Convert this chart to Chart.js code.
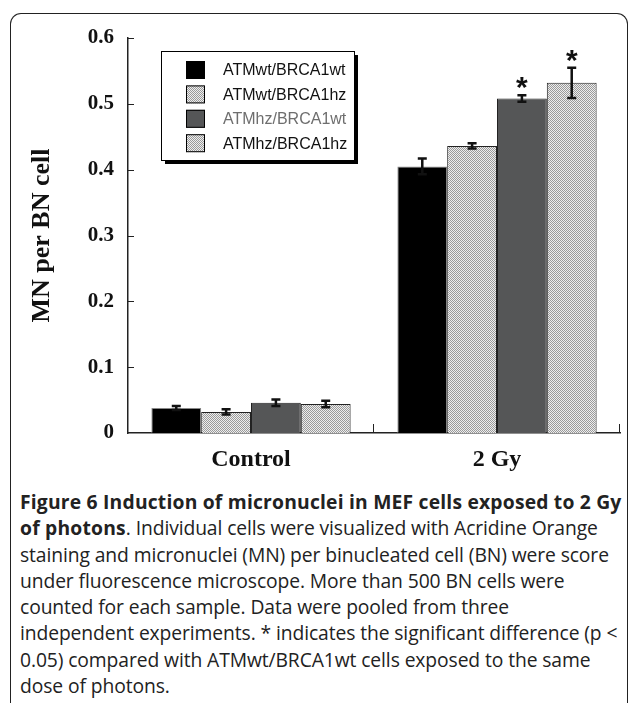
<!DOCTYPE html>
<html lang="en">
<head>
<meta charset="UTF-8"/>
<title>MN per BN cell</title>
<script src="https://cdn.jsdelivr.net/npm/chart.js"></script>
<style>
    html, body {
        margin: 0;
        padding: 0;
        background: #fff;
        width: 629px;
        height: 703px;
        overflow: hidden;
    }
    .frame {
        position: absolute;
        left: 10px;
        top: 13px;
        width: 616px;
        height: 720px;
        border: 1.5px solid #222;
        border-bottom: none;
        border-radius: 11px 11px 0 0;
    }
    .chart-box {
        position: absolute;
        left: 0;
        top: 0;
        width: 629px;
        height: 480px;
    }
    .caption {
        position: absolute;
        left: 20px;
        top: 489px;
        font-family: 'Open Sans', sans-serif;
        font-size: 19.3px;
        letter-spacing: -0.1px;
        line-height: 26.3px;
        color: #222;
        white-space: nowrap;
    }
    .caption b { font-weight: 700; letter-spacing: 0.2px; }
</style>
</head>
<body>
<div class="frame"></div>
<div class="chart-box"><canvas id="mn"></canvas></div>
<div class="caption">
    <b>Figure 6 Induction of micronuclei in MEF cells exposed to 2 Gy</b><br>
    <b>of photons</b>. Individual cells were visualized with Acridine Orange<br>
    staining and micronuclei (MN) per binucleated cell (BN) were score<br>
    under fluorescence microscope. More than 500 BN cells were<br>
    counted for each sample. Data were pooled from three<br>
    independent experiments. * indicates the significant difference (p &lt;<br>
    0.05) compared with ATMwt/BRCA1wt cells exposed to the same<br>
    dose of photons.
</div>

<script>
    // data
    const groups = ['Control', '2 Gy'];
    const seriesNames = ['ATMwt/BRCA1wt', 'ATMwt/BRCA1hz', 'ATMhz/BRCA1wt', 'ATMhz/BRCA1hz'];
    const wtwtMean = [0.038, 0.405];
    const wthzMean = [0.032, 0.436];
    const hzwtMean = [0.046, 0.508];
    const hzhzMean = [0.044, 0.532];
    const wtwtErr = [0.003, 0.012];
    const wthzErr = [0.004, 0.004];
    const hzwtErr = [0.005, 0.005];
    const hzhzErr = [0.005, 0.023];
    const hzwtSig = [false, true];
    const hzhzSig = [false, true];
    const yTicks = [0, 0.1, 0.2, 0.3, 0.4, 0.5, 0.6];

    // fine dotted grey fill like the original hatching
    function dotPattern() {
        const c = document.createElement('canvas');
        c.width = 2; c.height = 2;
        const g = c.getContext('2d');
        g.fillStyle = '#eeeeee';
        g.fillRect(0, 0, 2, 2);
        g.fillStyle = '#9a9a9a';
        g.fillRect(0, 0, 1, 1);
        g.fillRect(1, 1, 1, 1);
        return g.createPattern(c, 'repeat');
    }
    const ctx = document.getElementById('mn').getContext('2d');
    const dots = dotPattern();

    const serif = "'Liberation Serif', 'Times New Roman', serif";
    const sans = "'Liberation Sans', Arial, sans-serif";

    const errorBars = {
        id: 'errorBars',
        afterDatasetsDraw(chart) {
            const c = chart.ctx;
            const y = chart.scales.y;
            c.save();
            c.strokeStyle = '#111';
            c.lineWidth = 2.5;
            chart.data.datasets.forEach((ds, i) => {
                const meta = chart.getDatasetMeta(i);
                meta.data.forEach((bar, j) => {
                    const v = ds.data[j], e = ds.err[j];
                    const top = y.getPixelForValue(v + e);
                    const bot = y.getPixelForValue(v - e);
                    c.beginPath();
                    c.moveTo(bar.x, top); c.lineTo(bar.x, bot);
                    c.moveTo(bar.x - 4.5, top); c.lineTo(bar.x + 4.5, top);
                    c.moveTo(bar.x - 4.5, bot); c.lineTo(bar.x + 4.5, bot);
                    c.stroke();
                    if (ds.sig && ds.sig[j]) {
                        c.fillStyle = '#111';
                        c.font = 'bold 30px ' + sans;
                        c.textAlign = 'center';
                        c.textBaseline = 'alphabetic';
                        c.fillText('*', bar.x, top + 2);
                    }
                });
            });
            c.restore();
        }
    };

    // inward tick marks on both axes
    const innerTicks = {
        id: 'innerTicks',
        afterDraw(chart) {
            const c = chart.ctx;
            const {x, y} = chart.scales;
            const area = chart.chartArea;
            c.save();
            c.strokeStyle = '#222';
            c.lineWidth = 1;
            c.beginPath();
            yTicks.forEach(t => {
                if (t === 0) return;
                const py = Math.round(y.getPixelForValue(t)) + 0.5;
                c.moveTo(area.left, py); c.lineTo(area.left + 6, py);
            });
            for (let k = 1; k <= groups.length; k++) {
                const px = Math.round(area.left + (area.right - area.left) * k / groups.length) - 0.5;
                c.moveTo(px, area.bottom); c.lineTo(px, area.bottom - 9);
            }
            c.stroke();
            c.restore();
        }
    };

    const boxLegend = {
        id: 'boxLegend',
        afterDraw(chart) {
            const c = chart.ctx;
            const bx = 161, by = 51, bw = 193, bh = 109;
            c.save();
            c.fillStyle = '#000';
            c.fillRect(bx + 4, by + 4, bw, bh);
            c.fillStyle = '#fff';
            c.fillRect(bx, by, bw, bh);
            c.strokeStyle = '#000';
            c.lineWidth = 1;
            c.strokeRect(bx + 0.5, by + 0.5, bw, bh);
            c.font = '16px ' + sans;
            c.textBaseline = 'middle';
            c.textAlign = 'left';
            chart.data.datasets.forEach((ds, i) => {
                const cy = by + 19 + i * 24.4;
                c.fillStyle = ds.backgroundColor;
                c.fillRect(bx + 25, cy - 9, 19, 18);
                c.strokeStyle = '#000';
                c.strokeRect(bx + 25.5, cy - 8.5, 18, 17);
                c.fillStyle = ds.legendTextColor;
                c.fillText(ds.label, bx + 62, cy + 1);
            });
            c.restore();
        }
    };

    const chart = new Chart(ctx, {
        type: 'bar',
        data: {
            labels: groups,
            datasets: [
                { label: seriesNames[0], data: wtwtMean, err: wtwtErr, backgroundColor: '#000', borderColor: '#888', legendTextColor: '#111' },
                { label: seriesNames[1], data: wthzMean, err: wthzErr, backgroundColor: dots, borderColor: '#222', legendTextColor: '#111' },
                { label: seriesNames[2], data: hzwtMean, err: hzwtErr, sig: hzwtSig, backgroundColor: '#555657', borderColor: '#222', legendTextColor: '#6e6e6e' },
                { label: seriesNames[3], data: hzhzMean, err: hzhzErr, sig: hzhzSig, backgroundColor: dots, borderColor: '#222', legendTextColor: '#111' }
            ]
        },
        options: {
            responsive: true,
            maintainAspectRatio: false,
            animation: false,
            layout: { padding: { left: 0, top: 38, right: 9, bottom: 0 } },
            datasets: {
                bar: { categoryPercentage: 0.81, barPercentage: 1, borderWidth: 1 }
            },
            plugins: {
                legend: { display: false },
                tooltip: { enabled: false }
            },
            scales: {
                x: {
                    grid: { display: false, drawTicks: false },
                    border: { display: true, color: '#222', width: 1.5 },
                    ticks: {
                        color: '#111',
                        padding: 12,
                        font: { family: serif, size: 24, weight: 'bold' }
                    },
                    afterFit(s) { s.height = 47; }
                },
                y: {
                    min: 0,
                    max: 0.6,
                    afterBuildTicks(s) { s.ticks = yTicks.map(v => ({ value: v })); },
                    grid: { display: false, drawTicks: false },
                    border: { display: true, color: '#222', width: 1.5 },
                    ticks: {
                        color: '#111',
                        padding: 14,
                        font: { family: serif, size: 21, weight: 'bold' },
                        callback: v => v === 0 ? '0' : v.toFixed(1)
                    },
                    title: {
                        display: true,
                        text: 'MN per BN cell',
                        color: '#111',
                        padding: { top: 27, bottom: 0 },
                        font: { family: serif, size: 26, weight: 'bold' }
                    },
                    afterFit(s) { s.width = 128; }
                }
            }
        },
        plugins: [errorBars, innerTicks, boxLegend]
    });
</script>
</body>
</html>
